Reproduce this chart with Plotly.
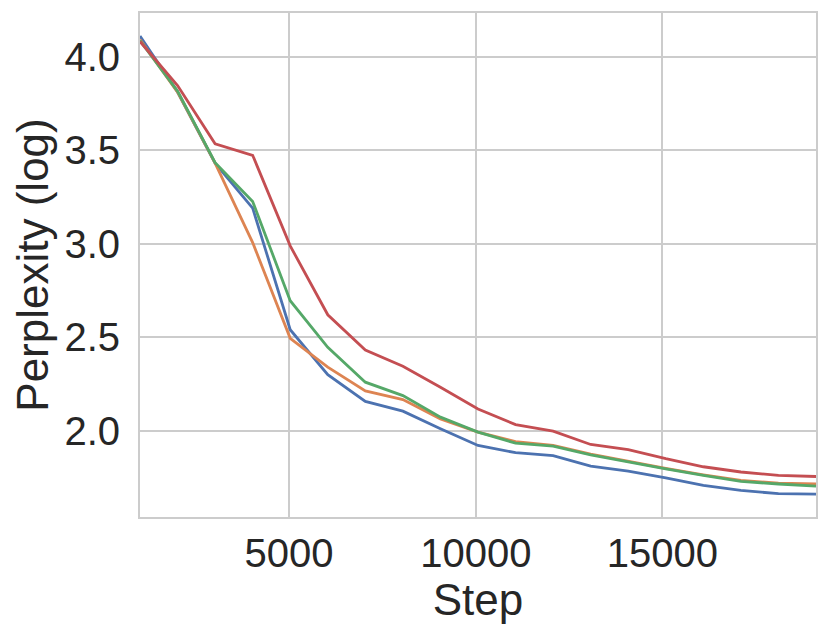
import plotly.graph_objects as go

steps = [1006, 2012, 3018, 4024, 5030, 6036, 7042, 8048, 9054, 10060,
         11066, 12072, 13078, 14084, 15090, 16096, 17102, 18108, 19114]

blue = [4.11, 3.81, 3.43, 3.19, 2.54, 2.30, 2.157, 2.105, 2.011, 1.922,
        1.883, 1.868, 1.812, 1.785, 1.749, 1.708, 1.682, 1.664, 1.662]
orange = [4.09, 3.81, 3.43, 3.006, 2.494, 2.34, 2.213, 2.167, 2.064, 1.993,
          1.942, 1.922, 1.875, 1.835, 1.799, 1.765, 1.735, 1.721, 1.716]
green = [4.085, 3.815, 3.433, 3.225, 2.695, 2.446, 2.26, 2.188, 2.073, 1.993,
         1.934, 1.918, 1.872, 1.833, 1.797, 1.762, 1.730, 1.716, 1.705]
red = [4.08, 3.845, 3.534, 3.472, 2.988, 2.62, 2.432, 2.345, 2.233, 2.117,
       2.033, 1.998, 1.927, 1.899, 1.851, 1.808, 1.780, 1.762, 1.756]

series = [("blue", blue, "#4C72B0"), ("orange", orange, "#DD8452"),
          ("green", green, "#55A868"), ("red", red, "#C44E52")]

fig = go.Figure()
for name, vals, col in series:
    fig.add_trace(go.Scatter(x=steps, y=vals, mode="lines", name=name,
                             line=dict(color=col, width=2.8), showlegend=False))

allv = blue + orange + green + red
lo, hi = min(allv), max(allv)
pad = 0.05 * (hi - lo)

font = "Liberation Sans, Arial, sans-serif"
fig.update_layout(
    width=823, height=630,
    margin=dict(l=132, r=15, t=5, b=121, autoexpand=False),
    paper_bgcolor="white", plot_bgcolor="white",
    font=dict(family=font, color="#262626"),
)
fig.update_xaxes(
    range=[steps[0], steps[-1]], automargin=False,
    tickvals=[5000, 10000, 15000], ticktext=["5000", "10000", "15000"],
    tickfont=dict(size=40, color="#262626"),
    showgrid=True, gridcolor="#cccccc", gridwidth=1.5,
    showline=True, linecolor="#cccccc", linewidth=2, mirror=True,
    zeroline=False, ticks="", ticklabelstandoff=0,
    title=dict(text="Step", font=dict(size=44, color="#262626"), standoff=0),
)
fig.update_yaxes(
    range=[lo - pad, hi + pad], automargin=False,
    tickvals=[2.0, 2.5, 3.0, 3.5, 4.0], ticktext=["2.0", "2.5", "3.0", "3.5", "4.0"],
    tickfont=dict(size=40, color="#262626"),
    showgrid=True, gridcolor="#cccccc", gridwidth=1.5,
    showline=True, linecolor="#cccccc", linewidth=2, mirror=True,
    zeroline=False, ticks="", ticklabelstandoff=10,
    title=dict(text="Perplexity (log)", font=dict(size=44, color="#262626"), standoff=6),
)
fig.write_html("out.html")
